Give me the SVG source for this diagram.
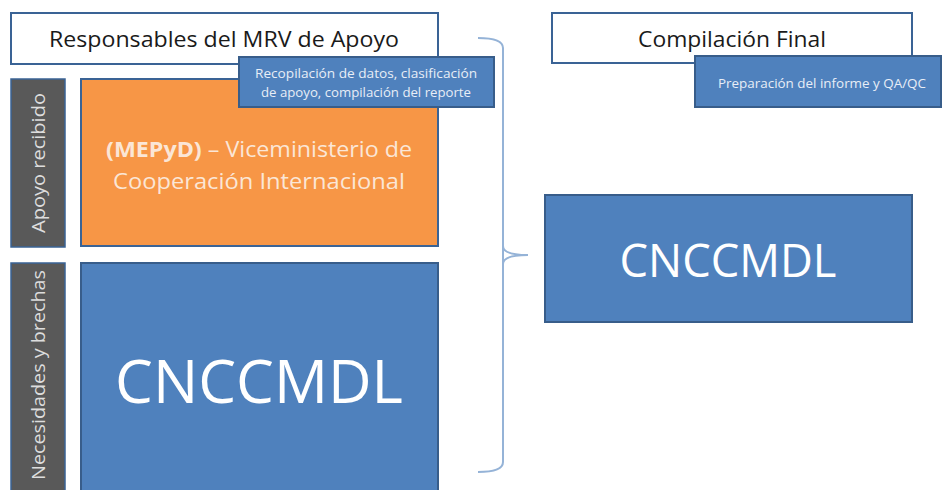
<svg xmlns="http://www.w3.org/2000/svg" width="942" height="490" viewBox="0 0 942 490">
<style>
text{font-family:"Open Sans","Liberation Sans",sans-serif;}
.hdr{fill:#fff;stroke:#3a6395;stroke-width:2;}
.sub{fill:#4f81bd;stroke:#385d8a;stroke-width:2;}
.side{fill:#595959;stroke:#3a6395;stroke-width:1.5;}
.blue{fill:#4f81bd;stroke:#385d8a;stroke-width:2;}
.orange{fill:#f79646;stroke:#3a6395;stroke-width:2;}
.ht{font-size:21px;fill:#1a1a1a;text-anchor:middle;}
.st{font-size:12px;fill:#e8eef7;text-anchor:middle;}
.vt{font-size:18px;fill:#dddddd;text-anchor:middle;}
.ot{font-size:21px;fill:#fbe6d6;text-anchor:middle;}
.big{fill:#ffffff;text-anchor:middle;}
</style>
<g id="connectors">
<path d="M478,38 Q503,38 503,48 L503,246 Q503,255 528,255 M503,246 L503,264 Q503,255 528,255 M503,264 L503,462 Q503,472 478,472" fill="none" stroke="#95b3d7" stroke-width="2"/>
</g>
<g id="hdr-left">
<rect class="hdr" x="11" y="13" width="427" height="51"/>
<text class="ht" x="224" y="47" textLength="350" lengthAdjust="spacingAndGlyphs">Responsables del MRV de Apoyo</text>
</g>
<g id="hdr-right">
<rect class="hdr" x="552" y="13" width="360" height="50"/>
<text class="ht" x="732" y="47" textLength="188" lengthAdjust="spacingAndGlyphs">Compilación Final</text>
</g>
<g id="side-apoyo">
<rect class="side" x="11" y="79" width="54" height="168"/>
<text class="vt" transform="translate(45,163) rotate(-90)" textLength="140" lengthAdjust="spacingAndGlyphs">Apoyo recibido</text>
</g>
<g id="side-necesidades">
<rect class="side" x="11" y="263" width="54" height="240"/>
<text class="vt" transform="translate(45,375) rotate(-90)" textLength="210" lengthAdjust="spacingAndGlyphs">Necesidades y brechas</text>
</g>
<g id="mepyd">
<rect class="orange" x="81" y="79" width="357" height="167"/>
<text class="ot" x="259" y="157" textLength="306" lengthAdjust="spacingAndGlyphs"><tspan font-weight="bold">(MEPyD)</tspan> – Viceministerio de</text>
<text class="ot" x="259" y="189" textLength="292" lengthAdjust="spacingAndGlyphs">Cooperación Internacional</text>
</g>
<g id="sub-left">
<rect class="sub" x="239" y="57" width="255" height="50"/>
<text class="st" x="366" y="78" textLength="222" lengthAdjust="spacingAndGlyphs">Recopilación de datos, clasificación</text>
<text class="st" x="366" y="97" textLength="210" lengthAdjust="spacingAndGlyphs">de apoyo, compilación del reporte</text>
</g>
<g id="sub-right">
<rect class="sub" x="695" y="56" width="246" height="51"/>
<text class="st" x="822" y="88" textLength="208" lengthAdjust="spacingAndGlyphs">Preparación del informe y QA/QC</text>
</g>
<g id="cnccmdl-left">
<rect class="blue" x="81" y="263" width="357" height="240"/>
<text class="big" x="259" y="403" font-size="60" textLength="288" lengthAdjust="spacingAndGlyphs">CNCCMDL</text>
</g>
<g id="cnccmdl-right">
<rect class="blue" x="545" y="195" width="367" height="127"/>
<text class="big" x="728" y="277" font-size="45" textLength="217" lengthAdjust="spacingAndGlyphs">CNCCMDL</text>
</g>
</svg>
